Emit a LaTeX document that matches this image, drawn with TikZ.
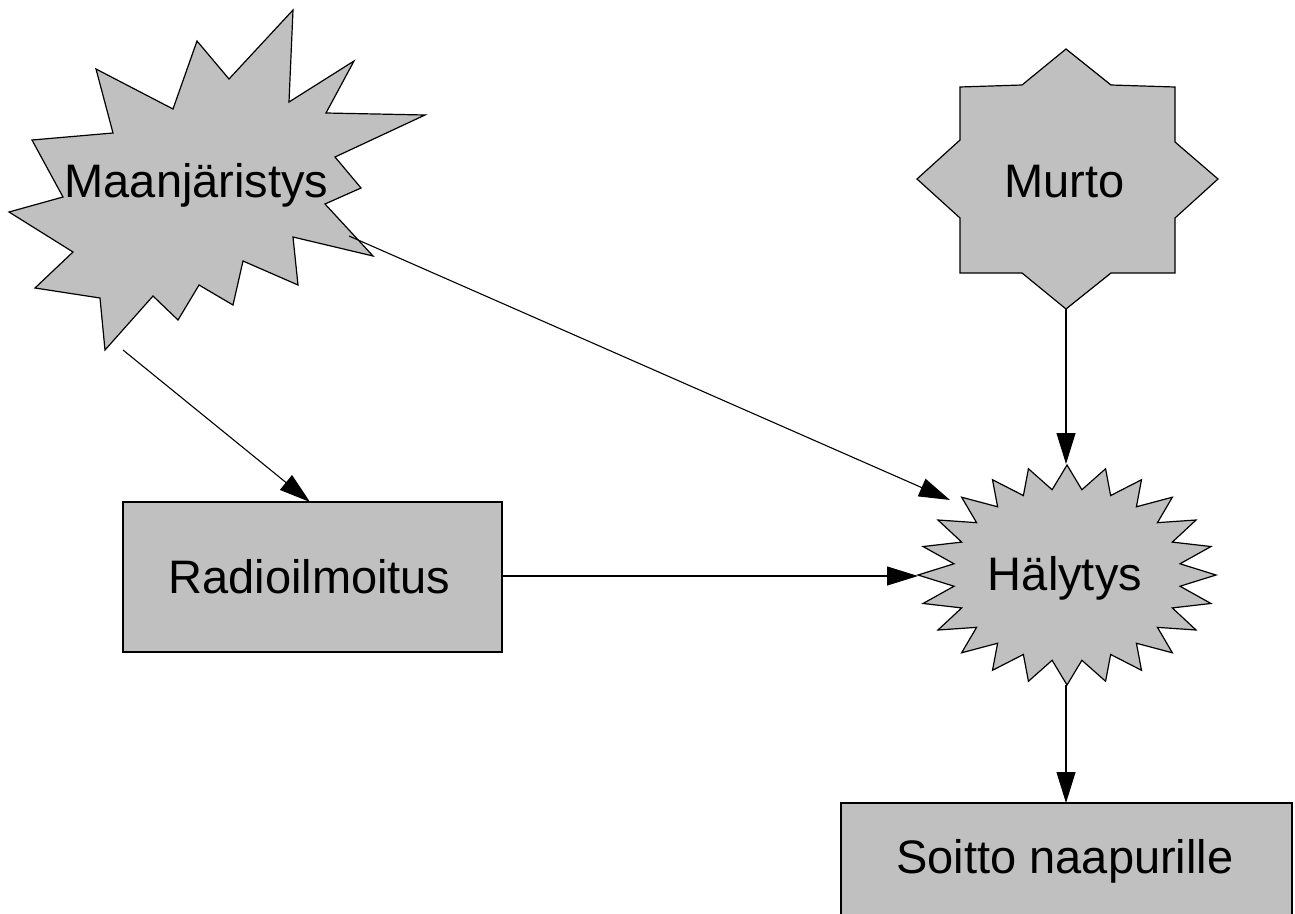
\documentclass[tikz,border=0pt]{standalone}
\usepackage{fontspec}
\setmainfont{Liberation Sans}
\usetikzlibrary{arrows.meta}
\definecolor{shapegray}{RGB}{192,192,192}
\begin{document}
\begin{tikzpicture}[x=1pt,y=-1pt,
  shapebox/.style={fill=shapegray, draw=black, line width=1.2pt, line join=miter},
  lbl/.style={font=\fontsize{47}{52}\selectfont, inner sep=0pt, anchor=base},
  conn/.style={draw=black, line width=1.1pt, -{Triangle[length=31pt,width=19pt]}}]
\useasboundingbox (0,0) rectangle (1295,913);
\clip (0,0) rectangle (1295,913);
\fill[white] (0,0) rectangle (1295,913);

% Maanjaristys explosion
\draw[shapebox] (293,10) -- (289,102) -- (354,61) -- (326,113) -- (425,115) -- (335,157)
  -- (361,188) -- (325,204) -- (373,256) -- (293,237) -- (298,285) -- (243,261)
  -- (233,305) -- (199,285) -- (178,320) -- (153,296) -- (105,350) -- (100,298)
  -- (35,288) -- (73,252) -- (9,212) -- (63,197) -- (32,140) -- (113,133)
  -- (96,69) -- (173,109) -- (197,41) -- (229,79) -- cycle;
\node[lbl] (maa) at (196.5,197) {Maanjäristys};

% Murto 8-point star
\draw[shapebox] (1066,49) -- (1022,85) -- (960,87) -- (960,140) -- (917,179) -- (960,218)
  -- (960,273) -- (1022,273) -- (1066,309) -- (1111,273) -- (1175,273) -- (1175,218)
  -- (1218,179) -- (1175,142) -- (1175,87) -- (1111,85) -- cycle;
\node[lbl] (murto) at (1064.5,197) {Murto};

% Halytys starburst
\draw[shapebox] (1216,575) \foreach \i in {1,...,47} {
  -- ({1067+(149-35*mod(\i,2))*cos(7.5*\i)}, {575-(110-24*mod(\i,2))*sin(7.5*\i)}) } -- cycle;
\node[lbl] (haly) at (1065,590) {Hälytys};

% Radioilmoitus box
\draw[shapebox] (123,502) rectangle (502,652);
\node[lbl] (radio) at (309.5,593) {Radioilmoitus};

% Soitto naapurille box
\draw[shapebox] (841,803) rectangle (1292,960);
\node[lbl] (soitto) at (1065,873) {Soitto naapurille};

% connector end points
\coordinate (maaA) at (123,350);
\coordinate (maaB) at (349,236);
\coordinate (radioTop) at (310,502);
\coordinate (radioRight) at (502,576);
\coordinate (halyNW) at (950,500);
\coordinate (halyW) at (918,576);
\coordinate (halyN) at (1066,464);
\coordinate (halyS) at (1066,685);
\coordinate (murtoS) at (1066,309);
\coordinate (soittoN) at (1066,803);

\draw[conn] (maaA) -- (radioTop);
\draw[conn] (maaB) -- (halyNW);
\draw[conn] (radioRight) -- (halyW);
\draw[conn] (murtoS) -- (halyN);
\draw[conn] (halyS) -- (soittoN);
\end{tikzpicture}
\end{document}
